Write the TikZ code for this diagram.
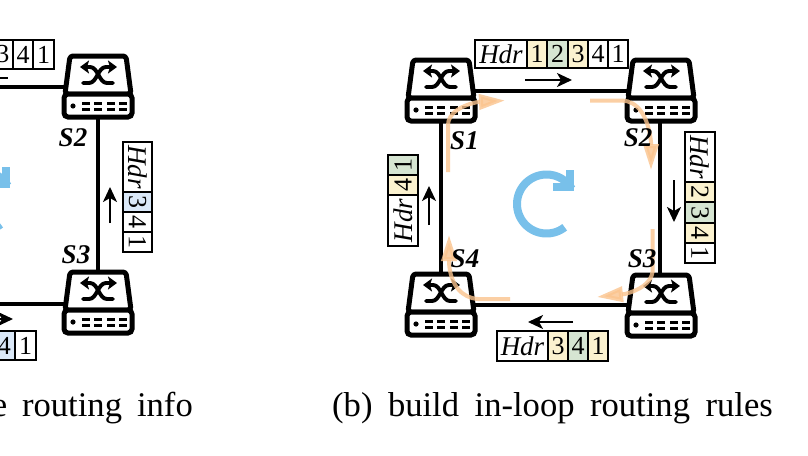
\documentclass[tikz,border=0pt]{standalone}
\usepackage{fontspec}
\setmainfont{Liberation Serif}
\usetikzlibrary{arrows.meta}
\definecolor{yel}{HTML}{FBF2CF}
\definecolor{grn}{HTML}{D6E5D2}
\definecolor{blu}{HTML}{DAE8F8}
\definecolor{org}{HTML}{FBC48E}
\definecolor{cycblue}{HTML}{78C0EA}
\tikzset{
  link/.style={line width=4.8pt},
  cell/.style={draw,line width=1.4pt,inner sep=0pt,font=\fontsize{26pt}{26pt}\selectfont},
  hdrcell/.style={cell,font=\fontsize{27pt}{27pt}\selectfont\itshape},
  sname/.style={inner sep=0pt,font=\fontsize{27pt}{27pt}\selectfont\bfseries\itshape},
  flow/.style={line width=2pt,-{Stealth[length=15pt,width=14pt,inset=4pt]}},
  loopflow/.style={org,opacity=.8,line width=4pt,-{Stealth[length=26pt,width=15pt,inset=0pt]}},
  loopmark/.style={cycblue,line width=8pt,miter limit=10},
  switchpic/.pic={
    \draw[line width=5pt,line join=round,fill=white,rounded corners=3pt] (-28,2) -- (28,2) -- (33,40) -- (-33,40) -- cycle;
    \draw[line width=5pt,fill=white,rounded corners=4pt] (-34,40) rectangle (34,63);
    \draw[line width=3.9pt,line cap=round,-{Stealth[length=9pt,width=13pt,inset=2pt]}] (-15,29) -- (-9,29) .. controls (-1,29) and (0,13) .. (8,13) -- (19,13);
    \draw[line width=3.9pt,line cap=round,-{Stealth[length=9pt,width=13pt,inset=2pt]}] (15,29) -- (9,29) .. controls (1,29) and (0,13) .. (-8,13) -- (-18,13);
    \fill (-25,52) circle (2.6pt);
    \foreach \c in {-16,-4,9,21}{
      \fill (\c,47.5) rectangle ++(8,3);
      \fill (\c,53.5) rectangle ++(8,3);
    }
  },
}
% name, x1, x2, y1, y2, colour, text
\newcommand\hcell[7]{\node[cell,fill=#6,minimum width={(#3-#2)*1pt},minimum height={(#5-#4)*1pt}] (#1) at ({(#2+#3)/2},{(#4+#5)/2}) {#7};}
\newcommand\hhdr[6]{\node[hdrcell,fill=#6,minimum width={(#3-#2)*1pt},minimum height={(#5-#4)*1pt}] (#1) at ({(#2+#3)/2},{(#4+#5)/2}) {Hdr};}
% name, x1, x2, y1, y2, colour, text, rotation
\newcommand\vcell[8]{\node[cell,fill=#6,rotate=#8,minimum width={(#5-#4)*1pt},minimum height={(#3-#2)*1pt}] (#1) at ({(#2+#3)/2},{(#4+#5)/2}) {#7};}
\newcommand\vhdr[7]{\node[hdrcell,fill=#6,rotate=#7,minimum width={(#5-#4)*1pt},minimum height={(#3-#2)*1pt}] (#1) at ({(#2+#3)/2},{(#4+#5)/2}) {Hdr};}
\newcommand\loopsign{%
  \draw[loopmark] plot[domain=52:329,samples=70] ({546.5+29.5*cos(\x)},{204+29.5*sin(\x)});
  \draw[loopmark,line join=miter] (553,186.5) -- (570,186.5) -- (570,170);
}
\begin{document}
\begin{tikzpicture}[x=1pt,y=-1pt]
\clip (0,0) rectangle (808,455);
\fill[white] (0,0) rectangle (808,455);

% ---------- (a)
\coordinate (a2) at (98,87);
\coordinate (a3) at (98,304);
\coordinate (aL) at (-6,87);
\coordinate (aB) at (-6,304);
\draw[link] (aL) -- (a2) -- (a3) -- (aB);
\begin{scope}[shift={(-564,-3)}]\loopsign\end{scope}
\pic at (98,54) {switchpic};
\pic at (98,270) {switchpic};
\node[sname] (as2) at (73,138) {S2};
\node[sname] (as3) at (76,255) {S3};
\hcell{at3}{-7}{13}{40}{69}{white}{3}
\hcell{at4}{13}{33}{40}{69}{white}{4}
\hcell{at1}{33}{54}{40}{69}{white}{1}
\coordinate (atA) at (-6,78);
\coordinate (atB) at (8,78);
\draw[line width=2pt] (atA) -- (atB);
\vhdr{arh}{123}{152}{142}{192}{white}{-90}
\vcell{ar3}{123}{152}{192}{212}{blu}{3}{-90}
\vcell{ar4}{123}{152}{212}{232}{white}{4}{-90}
\vcell{ar1}{123}{152}{232}{252}{white}{1}{-90}
\coordinate (arA) at (110,223);
\coordinate (arB) at (110,187);
\draw[flow] (arA) -- (arB);
\hcell{ab4}{-6}{15}{331}{360}{blu}{4}
\hcell{ab1}{15}{36}{331}{360}{white}{1}
\coordinate (abA) at (-6,319);
\coordinate (abB) at (13,319);
\draw[flow] (abA) -- (abB);

% ---------- (b)
\coordinate (b1) at (441,91);
\coordinate (b2) at (660,91);
\coordinate (b3) at (660,305);
\coordinate (b4) at (441,305);
\draw[link] (b1) -- (b2) -- (b3) -- (b4) -- cycle;
\loopsign
\pic at (441,58) {switchpic};
\pic at (661,58) {switchpic};
\pic at (661,273) {switchpic};
\pic at (441,272) {switchpic};

% orange in-loop arrows
\coordinate (o1a) at (448,172);
\coordinate (o1b) at (505,100.5);
\coordinate (o2a) at (590,100.5);
\coordinate (o2b) at (651,170);
\coordinate (o3a) at (652.5,229);
\coordinate (o3b) at (597,297);
\coordinate (o4a) at (510,299);
\coordinate (o4b) at (449,235);
\draw[loopflow] (o1a) -- (448,125) .. controls (448,113) and (462,105) .. (478,102) -- (o1b);
\draw[loopflow] (o2a) -- (622,100.5) .. controls (637,101) and (648,115) .. (651,142) -- (o2b);
\draw[loopflow] (o3a) -- (652.5,272) .. controls (651,283) and (640,290) .. (625,294) -- (o3b);
\draw[loopflow] (o4a) -- (478,299) .. controls (462,298) and (450,285) .. (449,262) -- (o4b);

\node[sname] (bs1) at (464.5,141) {S1};
\node[sname] (bs2) at (638,138) {S2};
\node[sname] (bs3) at (642,259) {S3};
\node[sname] (bs4) at (465,259) {S4};

% top header
\hhdr{tth}{475}{527}{40}{68}{white}
\hcell{tt1}{527}{547}{40}{68}{yel}{1}
\hcell{tt2}{547}{568}{40}{68}{grn}{2}
\hcell{tt3}{568}{588}{40}{68}{yel}{3}
\hcell{tt4}{588}{608}{40}{68}{white}{4}
\hcell{tt5}{608}{628}{40}{68}{white}{1}
\coordinate (ttA) at (525,80);
\coordinate (ttB) at (572,80);
\draw[flow] (ttA) -- (ttB);
% right header
\vhdr{rrh}{685}{715}{132}{182}{white}{-90}
\vcell{rr2}{685}{715}{182}{202}{yel}{2}{-90}
\vcell{rr3}{685}{715}{202}{223}{grn}{3}{-90}
\vcell{rr4}{685}{715}{223}{243}{yel}{4}{-90}
\vcell{rr1}{685}{715}{243}{263}{white}{1}{-90}
\coordinate (rrA) at (674,180);
\coordinate (rrB) at (674,222);
\draw[flow] (rrA) -- (rrB);
% left header
\vcell{ll1}{388}{418}{155}{175}{grn}{1}{90}
\vcell{ll4}{388}{418}{175}{195}{yel}{4}{90}
\vhdr{llh}{388}{418}{195}{246}{white}{90}
\coordinate (llA) at (429,225);
\coordinate (llB) at (429,186);
\draw[flow] (llA) -- (llB);
% bottom header
\hhdr{bbh}{497}{548}{331}{361}{white}
\hcell{bb3}{548}{568}{331}{361}{yel}{3}
\hcell{bb4}{568}{588}{331}{361}{grn}{4}
\hcell{bb1}{588}{608}{331}{361}{yel}{1}
\coordinate (bbA) at (573,322);
\coordinate (bbB) at (528,322);
\draw[flow] (bbA) -- (bbB);

% captions
\node[anchor=base east,inner sep=0pt,font=\fontsize{34.6pt}{34.6pt}\selectfont] (capa) at (193,416) {\spaceskip=15pt e routing info};
\node[anchor=base west,inner sep=0pt,font=\fontsize{34.6pt}{34.6pt}\selectfont] (capb) at (332,416) {\spaceskip=15.5pt (b) build in-loop routing rules};
\end{tikzpicture}
\end{document}
